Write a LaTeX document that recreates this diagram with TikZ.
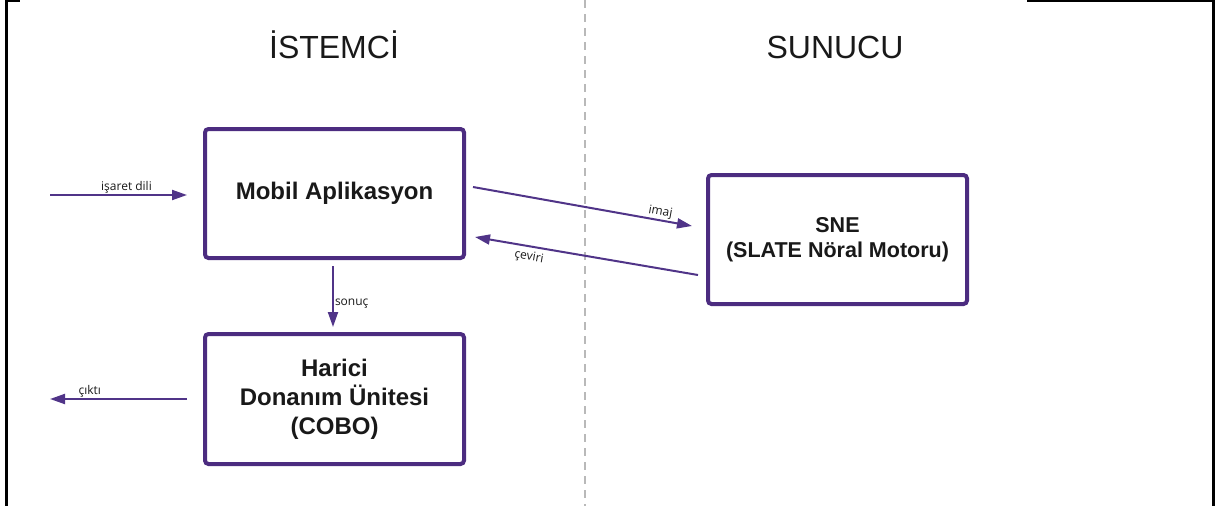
\documentclass[tikz,border=0pt]{standalone}
\usepackage{fontspec}
\setmainfont{Liberation Sans}
\newfontfamily\labelfont{Open Sans}
\usetikzlibrary{arrows.meta,calc}
\definecolor{boxpurple}{RGB}{76,44,128}
\definecolor{linkpurple}{RGB}{80,52,136}
\definecolor{inkgray}{RGB}{25,25,25}

\begin{document}
\begin{tikzpicture}[x=1pt,y=-1pt,
  blk/.style={draw=boxpurple, line width=4pt, rounded corners=3.5pt,
    minimum width=259pt, align=center, text=inkgray,
    font=\bfseries\fontsize{24}{29}\selectfont},
  link/.style={draw=linkpurple, line width=2pt,
    -{Triangle[length=15pt,width=10pt]}},
  linkrev/.style={draw=linkpurple, line width=2pt,
    {Triangle[length=15pt,width=10pt]}-},
  lbl/.style={font=\labelfont\fontsize{12}{14}\selectfont,
    text=inkgray, inner sep=1pt},
  title/.style={font=\fontsize{32}{36}\selectfont, text=inkgray, anchor=base},
  framerule/.style={black, line width=2.5pt}]

\useasboundingbox (0,0) rectangle (1215,506);

% outer frame fragments
\draw[framerule] (6.5,0) -- (6.5,506);
\draw[framerule] (5.3,1.2) -- (20,1.2);
\draw[framerule] (1213.5,0) -- (1213.5,506);
\draw[framerule] (1027,1.2) -- (1215,1.2);

% client / server separator
\draw[gray!55, line width=1.2pt, dash pattern=on 8pt off 6pt] (585,0) -- (585,506);

% column headings
\node[title] (client) at (334,58) {İSTEMCİ};
\node[title] (server) at (835,58) {SUNUCU};

% components
\node[blk, minimum height=129pt] (mobil) at (334.5,193.5) {Mobil Aplikasyon};
\node[blk, minimum height=130pt] (harici) at (334.5,399) {Harici\\Donanım Ünitesi\\(COBO)};
\node[blk, minimum height=129pt, font=\bfseries\fontsize{21.5}{25}\selectfont]
  (sne) at (837.5,239.5) {SNE\\(SLATE Nöral Motoru)};

% free ends of the input / output arrows
\coordinate (inp) at (50,195);
\coordinate (outp) at (50,399);

% connectors
\draw[link, shorten >=16pt] (inp) -- (inp -| mobil.west)
  node[lbl, above, pos=0.5] {işaret dili};
\draw[link, shorten <=16pt] (outp -| harici.west) -- (outp)
  node[lbl, above, pos=0.74] {çıktı};
\draw[link, shorten <=6pt, shorten >=5pt]
  ([xshift=-1.5pt]mobil.south) -- ([xshift=-1.5pt]harici.north)
  node[lbl, right, pos=0.6] {sonuç};
\draw[link] ($(mobil.east)+(7,-6.5)$) -- ($(sne.west)+(-14,-13.5)$)
  node[lbl, above, sloped, pos=0.85] {imaj};
\draw[linkrev] ($(mobil.east)+(9,43.5)$) -- ($(sne.west)+(-8,35.5)$)
  node[lbl, below=3pt, sloped, pos=0.25] {çeviri};
\end{tikzpicture}
\end{document}
